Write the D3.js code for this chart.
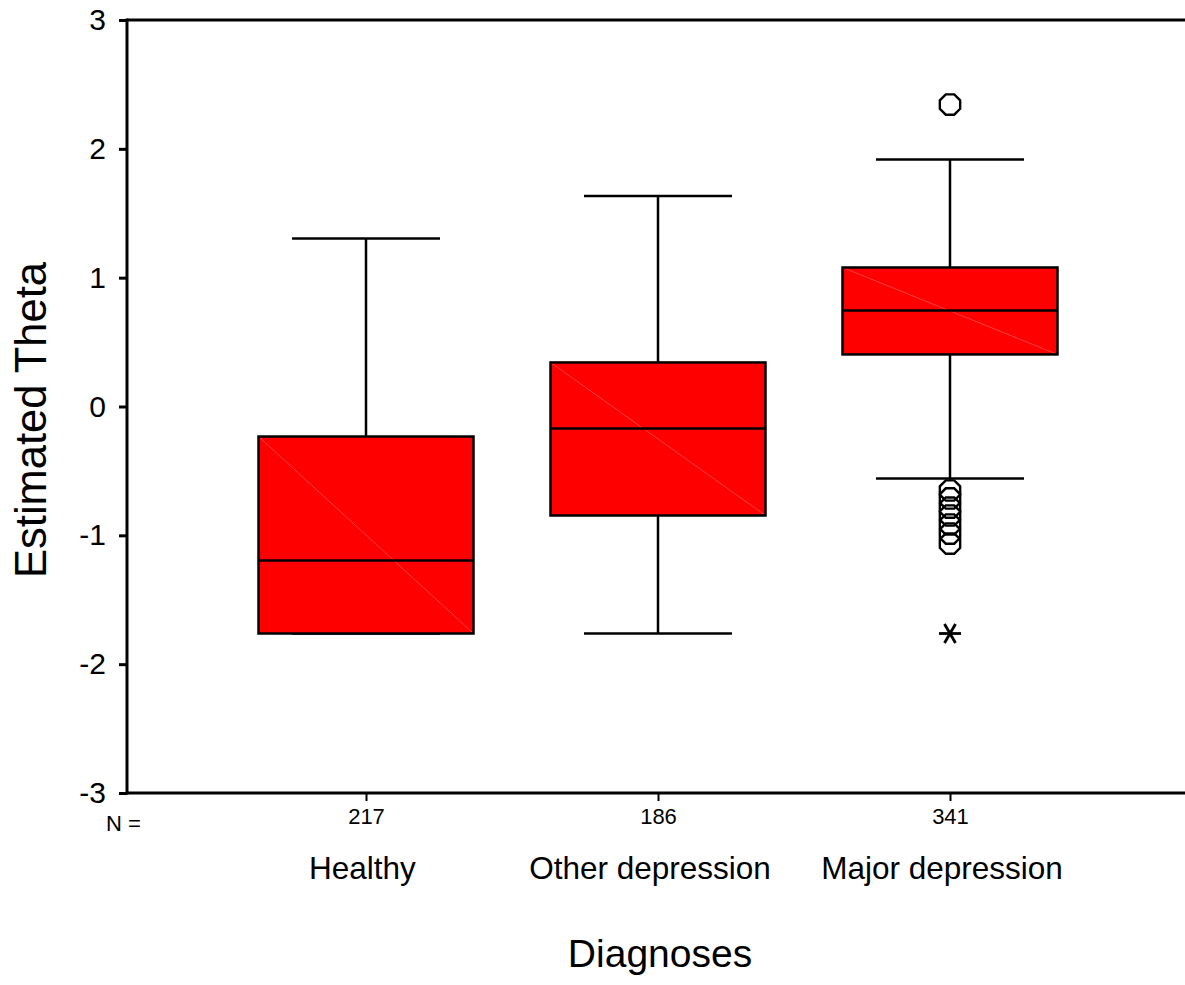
<!DOCTYPE html>
<html><head><meta charset="utf-8">
<script src="https://cdn.jsdelivr.net/npm/d3@7"></script>
<style>body{margin:0;background:#fff}svg{display:block;font-family:"Liberation Sans",Arial,sans-serif}</style>
</head><body>
<svg id="c" width="1185" height="985"></svg>
<script>
const categories = ["Healthy", "Other depression", "Major depression"];
const counts = [217, 186, 341];
const whiskerLow = [-1.762, -1.762, -0.559];
const q1 = [-1.762, -0.846, 0.404];
const median = [-1.195, -0.171, 0.745];
const q3 = [-0.233, 0.342, 1.079];
const whiskerHigh = [1.304, 1.633, 1.917];
const outlierCircles = [
  {cat: "Major depression", v: 2.344},
  {cat: "Major depression", v: -0.652},
  {cat: "Major depression", v: -0.714},
  {cat: "Major depression", v: -0.785},
  {cat: "Major depression", v: -0.846},
  {cat: "Major depression", v: -0.916},
  {cat: "Major depression", v: -0.986},
  {cat: "Major depression", v: -1.064}
];
const extremeStars = [{cat: "Major depression", v: -1.762}];
const yTicks = [-3, -2, -1, 0, 1, 2, 3];

const svg = d3.select("#c");
const pL = 127, pR = 1185, pT = 20, pB = 793;
const y = d3.scaleLinear().domain([-3, 3]).range([pB, pT]);
const x = d3.scalePoint().domain(categories).range([pL, 1189]).padding(0.8185);

const boxHalf = 107.5, capHalf = 74;

const g = svg.append("g");
categories.forEach((c, i) => {
  const cx = x(c);
  g.append("line").attr("x1", cx).attr("x2", cx).attr("y1", y(whiskerHigh[i])).attr("y2", y(q3[i]))
    .attr("stroke", "#000").attr("stroke-width", 2.5);
  g.append("line").attr("x1", cx).attr("x2", cx).attr("y1", y(q1[i])).attr("y2", y(whiskerLow[i]))
    .attr("stroke", "#000").attr("stroke-width", 2.5);
  g.append("line").attr("x1", cx - capHalf).attr("x2", cx + capHalf).attr("y1", y(whiskerHigh[i])).attr("y2", y(whiskerHigh[i]))
    .attr("stroke", "#000").attr("stroke-width", 2.5);
  g.append("line").attr("x1", cx - capHalf).attr("x2", cx + capHalf).attr("y1", y(whiskerLow[i])).attr("y2", y(whiskerLow[i]))
    .attr("stroke", "#000").attr("stroke-width", 2.5);
  g.append("rect").attr("x", cx - boxHalf).attr("y", y(q3[i])).attr("width", 2 * boxHalf)
    .attr("height", y(q1[i]) - y(q3[i])).attr("fill", "#ff0000");
  g.append("line").attr("x1", cx - boxHalf).attr("y1", y(q3[i])).attr("x2", cx + boxHalf).attr("y2", y(q1[i]))
    .attr("stroke", "#ff6a6a").attr("stroke-width", 0.6);
  g.append("rect").attr("x", cx - boxHalf).attr("y", y(q3[i])).attr("width", 2 * boxHalf)
    .attr("height", y(q1[i]) - y(q3[i])).attr("fill", "none").attr("stroke", "#000").attr("stroke-width", 2.5);
  g.append("line").attr("x1", cx - boxHalf).attr("x2", cx + boxHalf).attr("y1", y(median[i])).attr("y2", y(median[i]))
    .attr("stroke", "#000").attr("stroke-width", 2.5);
});

const octR = 11;
const oct = d3.range(8).map(k => {
  const a = Math.PI / 8 + k * Math.PI / 4;
  return [octR * Math.cos(a), octR * Math.sin(a)];
});
g.selectAll(".out").data(outlierCircles).enter().append("polygon")
  .attr("points", oct.map(p => p.join(",")).join(" "))
  .attr("transform", d => `translate(${x(d.cat)},${y(d.v)})`)
  .attr("fill", "none").attr("stroke", "#000").attr("stroke-width", 2.4);

const sr = 11;
extremeStars.forEach(d => {
  const cx = x(d.cat), cy = y(d.v);
  [0, 60, 120].forEach(ang => {
    const a = ang * Math.PI / 180;
    g.append("line").attr("x1", cx - sr * Math.cos(a)).attr("y1", cy - sr * Math.sin(a))
      .attr("x2", cx + sr * Math.cos(a)).attr("y2", cy + sr * Math.sin(a))
      .attr("stroke", "#000").attr("stroke-width", 2.8);
  });
});

const yAxis = d3.axisLeft(y).tickValues(yTicks).tickSize(8).tickPadding(13).tickFormat(d => String(d));
const ya = svg.append("g").attr("transform", `translate(${pL},0)`).call(yAxis);
ya.select(".domain").remove();
ya.selectAll("line").attr("stroke", "#000").attr("stroke-width", 3);
ya.selectAll("text").attr("font-size", 30).attr("fill", "#000").attr("font-family", "Liberation Sans, Arial, sans-serif");
svg.append("line").attr("x1", pL).attr("x2", pL).attr("y1", pT - 1.5).attr("y2", pB + 1.5).attr("stroke", "#000").attr("stroke-width", 3);
svg.append("line").attr("x1", pL).attr("x2", pR).attr("y1", pT).attr("y2", pT).attr("stroke", "#000").attr("stroke-width", 3);
svg.append("line").attr("x1", pL).attr("x2", pR).attr("y1", pB).attr("y2", pB).attr("stroke", "#000").attr("stroke-width", 3);

const xAxis = d3.axisBottom(x).tickSize(8).tickFormat((d, i) => counts[i]);
const xa = svg.append("g").attr("transform", `translate(0,${pB})`).call(xAxis);
xa.select(".domain").remove();
xa.selectAll("line").attr("stroke", "#000").attr("stroke-width", 2);
xa.selectAll("text").attr("font-size", 22).attr("fill", "#000").attr("y", 15)
  .attr("font-family", "Liberation Sans, Arial, sans-serif");

svg.append("text").attr("x", 106).attr("y", 831).attr("font-size", 22).text("N =");

svg.selectAll(".cat").data(categories).enter().append("text")
  .attr("x", d => x(d)).attr("y", 879).attr("text-anchor", "middle").attr("font-size", 31.5).text(d => d)
  .attr("dx", function () { return -0.033 * this.getComputedTextLength(); });

svg.append("text").attr("x", 660).attr("y", 967).attr("text-anchor", "middle").attr("font-size", 39).text("Diagnoses");
svg.append("text").attr("transform", "translate(46,420) rotate(-90)").attr("text-anchor", "middle")
  .attr("font-size", 43.5).text("Estimated Theta");
</script>
</body></html>
